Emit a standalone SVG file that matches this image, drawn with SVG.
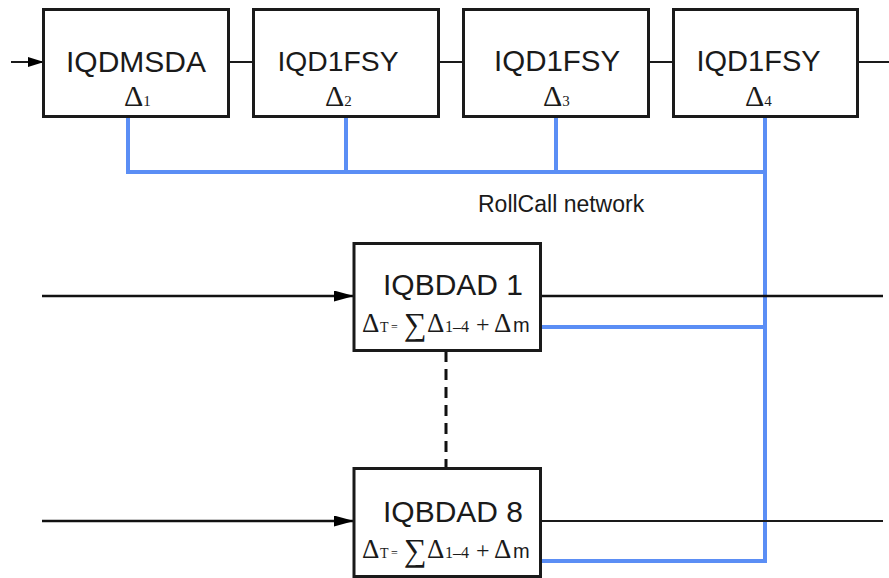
<svg xmlns="http://www.w3.org/2000/svg" width="889" height="578" viewBox="0 0 889 578">
<defs>
<marker id="ah2" markerWidth="20" markerHeight="11" refX="19" refY="5.5" orient="auto" markerUnits="userSpaceOnUse" viewBox="0 0 20 11">
<path d="M0,0 L20,5.5 L0,11 z" fill="#000"/>
</marker>
<marker id="ah1" markerWidth="16" markerHeight="10" refX="15" refY="5" orient="auto" markerUnits="userSpaceOnUse" viewBox="0 0 16 10">
<path d="M0,0 L16,5 L0,10 z" fill="#000"/>
</marker>
</defs>
<style>
.box{fill:#fff;stroke:#1a1a1a;stroke-width:3}
.lbl{font-family:"Liberation Sans",Arial,sans-serif;fill:#1a1a1a}
.ser{font-family:"Liberation Serif","Times New Roman",serif;fill:#1a1a1a}
.blk{stroke:#1a1a1a;stroke-width:2;fill:none}
.blk3{stroke:#111;stroke-width:2.5;fill:none}
.blue{stroke:#5b8ef5;stroke-width:4;fill:none}
</style>
<rect width="889" height="578" fill="#fff"/>
<g id="connectors">
<line class="blk" x1="11" y1="62" x2="43" y2="62" marker-end="url(#ah1)"/>
<line class="blk" x1="229" y1="62" x2="253" y2="62"/>
<line class="blk" x1="439" y1="62" x2="463" y2="62"/>
<line class="blk" x1="649" y1="62" x2="673" y2="62"/>
<line class="blk" x1="858" y1="62" x2="889" y2="62"/>
<polyline class="blue" points="128,117 128,172 765,172"/>
<line class="blue" x1="346" y1="117" x2="346" y2="172"/>
<line class="blue" x1="556" y1="117" x2="556" y2="172"/>
<line class="blue" x1="765" y1="117" x2="765" y2="563"/>
<polyline class="blue" points="541,327 765,327"/>
<polyline class="blue" points="541,561 765,561"/>
<line class="blk3" x1="42" y1="296" x2="353" y2="296" marker-end="url(#ah2)"/>
<line class="blk3" x1="541" y1="296" x2="883" y2="296"/>
<line class="blk3" x1="42" y1="521" x2="353" y2="521" marker-end="url(#ah2)"/>
<line class="blk" x1="541" y1="521" x2="883" y2="521"/>
<line x1="446" y1="351" x2="446" y2="468" stroke="#111" stroke-width="3" stroke-dasharray="11,7"/>
</g>
<g id="n1">
<rect class="box" x="43.5" y="9.5" width="185" height="107"/>
<text class="lbl" x="66" y="72" font-size="30">IQDMSDA</text>
<text class="ser" x="124" y="106" font-size="30">Δ<tspan font-size="15">1</tspan></text>
</g>
<g id="n2">
<rect class="box" x="253.5" y="9.5" width="185" height="107"/>
<text class="lbl" x="277.5" y="71" font-size="28.3">IQD1FSY</text>
<text class="ser" x="325" y="106" font-size="30">Δ<tspan font-size="15">2</tspan></text>
</g>
<g id="n3">
<rect class="box" x="463.5" y="9.5" width="185" height="107"/>
<text class="lbl" x="494" y="71" font-size="29.5">IQD1FSY</text>
<text class="ser" x="543" y="106" font-size="30">Δ<tspan font-size="15">3</tspan></text>
</g>
<g id="n4">
<rect class="box" x="673.5" y="9.5" width="184" height="107"/>
<text class="lbl" x="696.5" y="71" font-size="29">IQD1FSY</text>
<text class="ser" x="745" y="106" font-size="30">Δ<tspan font-size="15">4</tspan></text>
</g>
<g id="label">
<text class="lbl" x="478" y="212" font-size="23">RollCall network</text>
</g>
<g id="b1">
<rect class="box" x="354" y="243.5" width="186.5" height="107"/>
<text class="lbl" x="383" y="295" font-size="30">IQBDAD 1</text>
<text class="ser" y="332" font-size="27"><tspan x="362">Δ</tspan><tspan x="380" font-size="14">T</tspan><tspan x="391" font-size="12" dy="-1">=</tspan><tspan x="404" dy="4" font-size="32">∑</tspan><tspan x="427" dy="-3">Δ</tspan><tspan x="445" font-size="16">1–4</tspan><tspan x="476" font-size="24">+</tspan><tspan x="494">Δ</tspan></text>
<text class="lbl" x="513" y="332" font-size="20">m</text>
</g>
<g id="b8">
<rect class="box" x="354" y="468.5" width="186.5" height="108"/>
<text class="lbl" x="383" y="521.5" font-size="30">IQBDAD 8</text>
<text class="ser" y="558" font-size="27"><tspan x="362">Δ</tspan><tspan x="380" font-size="14">T</tspan><tspan x="391" font-size="12" dy="-1">=</tspan><tspan x="404" dy="4" font-size="32">∑</tspan><tspan x="427" dy="-3">Δ</tspan><tspan x="445" font-size="16">1–4</tspan><tspan x="476" font-size="24">+</tspan><tspan x="494">Δ</tspan></text>
<text class="lbl" x="513" y="558" font-size="20">m</text>
</g>
</svg>
